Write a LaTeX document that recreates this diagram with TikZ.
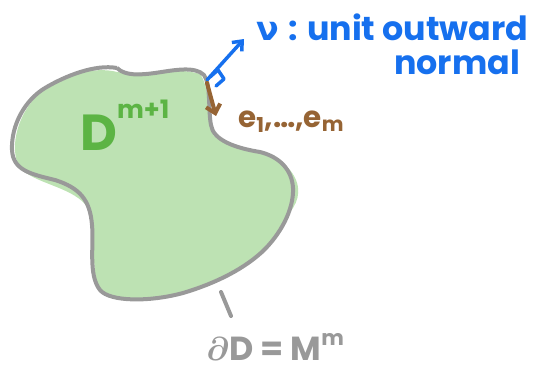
\documentclass[tikz,border=0pt]{standalone}
\usepackage{amsmath}
\usepackage{bm}
\usepackage{fontspec}
\setmainfont{Poppins}
\newfontfamily\greekfont{DejaVu Sans}
\usetikzlibrary{arrows.meta}

\definecolor{regiongreen}{RGB}{189,226,179}
\definecolor{labelgreen}{RGB}{92,180,68}
\definecolor{edgegray}{RGB}{153,153,153}
\definecolor{normalblue}{RGB}{22,112,238}
\definecolor{framebrown}{RGB}{150,100,52}

\tikzset{
    boundary/.style={draw=edgegray, line width=3pt, line join=round},
    handtext/.style={inner sep=0pt, font=\bfseries\fontsize{25}{27}\selectfont},
    pen/.style={line width=2.6pt, line cap=round, line join=round},
}

\begin{document}
\begin{tikzpicture}[x=0.75pt, y=-0.75pt]
    \useasboundingbox (0,0) rectangle (542,371);

    % Fill the region (slightly off the outline, as sketched)
    \fill[regiongreen] (117,72) .. controls (140,76) and (175,66) .. (200,74)
        .. controls (212,90) and (206,125) .. (214,136)
        .. controls (230,150) and (272,150) .. (290,170)
        .. controls (302,185) and (300,200) .. (290,212)
        .. controls (275,250) and (230,280) .. (183,292)
        .. controls (145,302) and (105,302) .. (98,285)
        .. controls (90,265) and (98,225) .. (88,208)
        .. controls (75,188) and (40,185) .. (22,170)
        .. controls (8,155) and (15,115) .. (40,93)
        .. controls (60,75) and (95,66) .. (117,72) -- cycle;

    % Draw the boundary
    \draw[boundary] (117,68) .. controls (125,76) and (140,75) .. (155,73)
        .. controls (175,70) and (195,66) .. (204,75)
        .. controls (211,85) and (208,110) .. (211,125)
        .. controls (213,140) and (235,148) .. (260,152)
        .. controls (280,157) and (292,170) .. (293,188)
        .. controls (294,210) and (280,235) .. (262,252)
        .. controls (240,272) and (210,285) .. (183,293)
        .. controls (150,302) and (110,302) .. (100,290)
        .. controls (88,275) and (94,245) .. (92,225)
        .. controls (90,200) and (80,188) .. (55,180)
        .. controls (30,174) and (13,170) .. (12,150)
        .. controls (11,125) and (25,100) .. (45,88)
        .. controls (65,76) and (95,64) .. (117,68);

    % Outward normal with right-angle mark
    \coordinate (base) at (207,80);
    \coordinate (tip) at (244,39);
    \draw[pen, normalblue, -{Straight Barb[length=6pt, width=10pt, line width=2.6pt]}] (base) -- (tip);
    \draw[pen, normalblue] (210,77) -- (218,70) -- (224,79) -- (216,86);

    % Tangent frame
    \coordinate (fbase) at (207,83);
    \coordinate (ftip) at (216,116);
    \draw[pen, line width=3pt, framebrown, -{Straight Barb[length=6pt, width=11pt, line width=3pt]}] (fbase) -- (ftip);

    % Boundary tick
    \coordinate (tickin) at (221,292);
    \coordinate (tickout) at (231,316);
    \draw[pen, line width=3pt, edgegray] (tickin) -- (tickout);

    % Labels
    \node[handtext, text=normalblue, anchor=base west] (nu) at (256,40)
        {{\greekfont ν}\hspace{7pt}:\hspace{7pt}unit outward};
    \node[handtext, text=normalblue, anchor=base west] (normal) at (394,74) {normal};
    \node[handtext, text=framebrown, anchor=base west, font=\bfseries\fontsize{22}{24}\selectfont] (frame) at (238,127) {e\textsubscript{1},\dots,e\textsubscript{m}};
    \node[handtext, text=labelgreen, anchor=base west, font=\bfseries\fontsize{38}{40}\selectfont] (disk) at (80,150)
        {D\raisebox{0.62em}{\fontsize{19}{20}\selectfont m+1}};
    \node[handtext, text=edgegray, anchor=base west, font=\bfseries\fontsize{25}{27}\selectfont] (bdry) at (206,360)
        {$\boldsymbol{\partial}$D = M\raisebox{0.45em}{\fontsize{16}{18}\selectfont m}};
\end{tikzpicture}
\end{document}
